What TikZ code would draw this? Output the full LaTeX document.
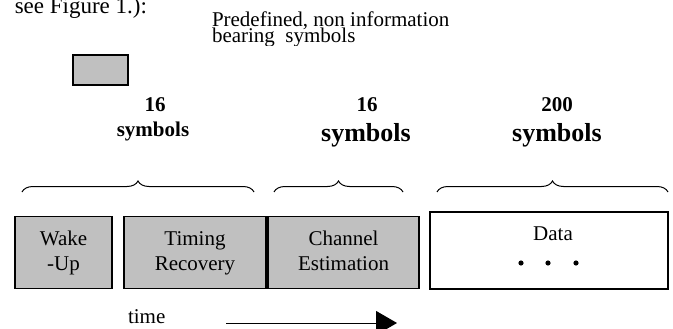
\documentclass[tikz,border=0pt]{standalone}
\usepackage{fontspec}
\setmainfont{Liberation Serif}
\usetikzlibrary{decorations.pathreplacing}
\usetikzlibrary{arrows.meta}
\definecolor{boxgray}{RGB}{192,192,192}

\begin{document}
\begin{tikzpicture}[x=1pt,y=-1pt,
every node/.style={inner sep=0pt,outer sep=0pt},
txt/.style={font=\fontsize{21}{25}\selectfont},
boldtxt/.style={font=\fontsize{21}{25}\selectfont\bfseries},
bigbold/.style={font=\fontsize{26}{30}\selectfont\bfseries},
fieldbox/.style={draw,line width=1.3pt,fill=boxgray,align=center,font=\fontsize{21}{25}\selectfont},
bracket/.style={decorate,decoration={brace,amplitude=11pt},line width=1pt}]
\useasboundingbox (0,0) rectangle (673,329);
\node[font=\fontsize{23}{27}\selectfont,anchor=base east] (fig) at (147,14) {see Figure 1.):};
\begin{scope}
\clip (0,0) rectangle (673,46);
\node[txt,anchor=base west] (pre1) at (212,27) {Predefined, non information};
\node[txt,anchor=base west] (pre2) at (212,43) {bearing\ \ symbols};
\end{scope}
\node[fieldbox,minimum width=55pt,minimum height=30pt] (key) at (100.5,70) {};
\node[boldtxt,anchor=base] (numA) at (155,112) {16};
\node[boldtxt,anchor=base] (symA) at (153,137) {symbols};
\node[boldtxt,anchor=base] (numB) at (367,112) {16};
\node[bigbold,anchor=base] (symB) at (366,142) {symbols};
\node[boldtxt,anchor=base] (numC) at (557,112) {200};
\node[bigbold,anchor=base] (symC) at (557,142) {symbols};
\coordinate (brA1) at (22,192); \coordinate (brA2) at (254,192);
\coordinate (brB1) at (274,192); \coordinate (brB2) at (403,192);
\coordinate (brC1) at (437,192); \coordinate (brC2) at (668,192);
\draw[bracket] (brA1) -- (brA2);
\draw[bracket] (brB1) -- (brB2);
\draw[bracket] (brC1) -- (brC2);
\node[fieldbox,minimum width=97pt,minimum height=72pt] (wake) at (63.5,252.5) {\strut Wake\\\strut-Up};
\node[fieldbox,minimum width=142pt,minimum height=72pt] (timing) at (195,252.5) {\strut Timing\\\strut Recovery};
\node[fieldbox,minimum width=151pt,minimum height=72pt] (channel) at (343.5,252.5) {\strut Channel\\\strut Estimation};
\node[fieldbox,fill=white,minimum width=238pt,minimum height=77pt] (data) at (549,250.5) {};
\node[txt,anchor=base] (datalbl) at (553,240) {Data};
\foreach \dx in {521,548,576}
  \fill (\dx,263) circle (2.6pt);
\node[txt,anchor=base west] (time) at (128,323) {time};
\coordinate (t0) at (226,323);
\coordinate (t1) at (397,323);
\draw[line width=1pt,-{Triangle[length=21pt,width=24pt]}] (t0) -- (t1);
\end{tikzpicture}
\end{document}
